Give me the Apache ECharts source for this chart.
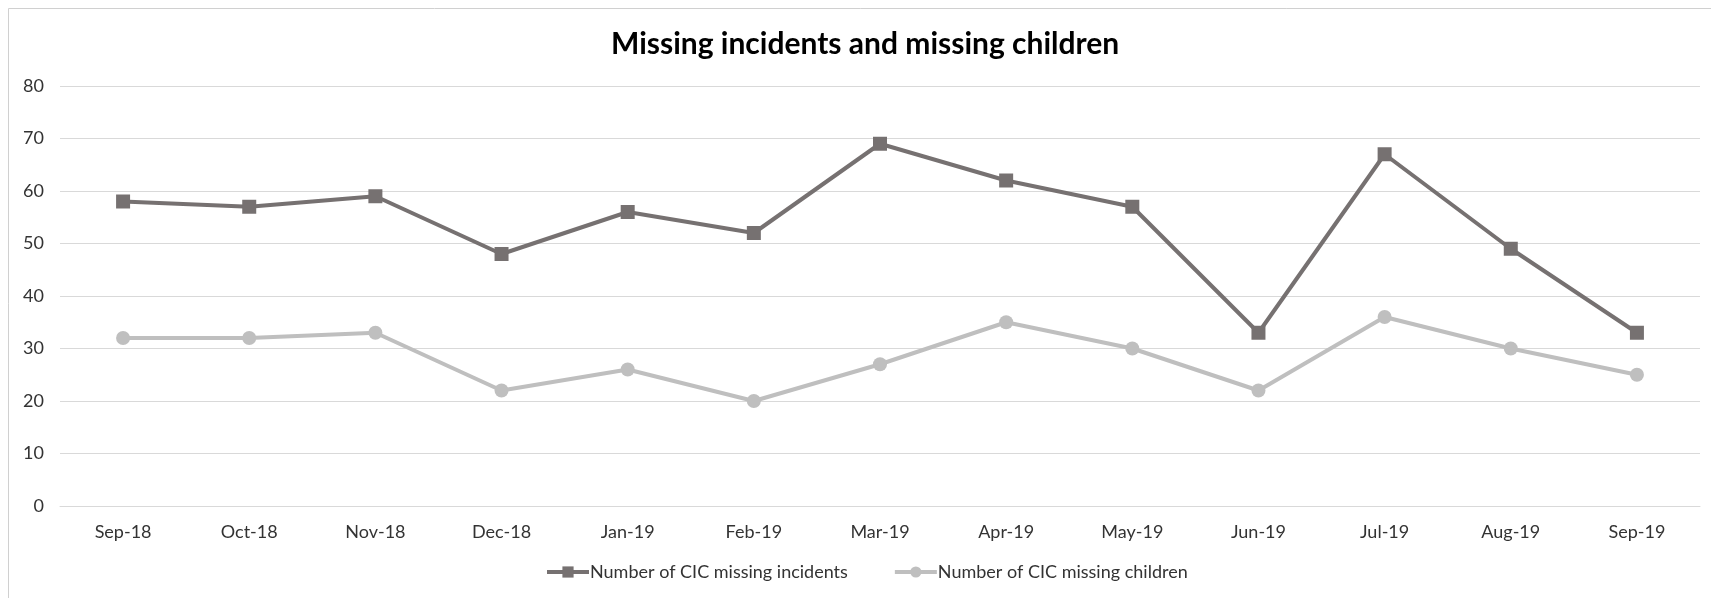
<!DOCTYPE html>
<html>
<head>
<meta charset="utf-8">
<script src="https://cdn.jsdelivr.net/npm/echarts@6/dist/echarts.min.js"></script>
<style>
  html, body { margin: 0; padding: 0; background: #fff; }
  #chart { width: 1711px; height: 598px; }
</style>
</head>
<body>
<div id="chart"></div>
<script>
// Monthly figures, Sep 2018 – Sep 2019
const months = ['Sep-18','Oct-18','Nov-18','Dec-18','Jan-19','Feb-19','Mar-19','Apr-19','May-19','Jun-19','Jul-19','Aug-19','Sep-19'];
const missingIncidents = [58, 57, 59, 48, 56, 52, 69, 62, 57, 33, 67, 49, 33];
const missingChildren = [32, 32, 33, 22, 26, 20, 27, 35, 30, 22, 36, 30, 25];
const yTicks = [0, 10, 20, 30, 40, 50, 60, 70, 80];

const font = 'Lato, Open Sans, sans-serif';
const chart = echarts.init(document.getElementById('chart'));

chart.setOption({
  backgroundColor: '#ffffff',
  animation: false,
  title: {
    text: 'Missing incidents and missing children',
    left: 606,
    top: 24,
    textStyle: { fontFamily: font, fontSize: 30, fontWeight: 'bold', color: '#000' }
  },
  graphic: [{
    type: 'rect',
    shape: { x: 8.5, y: 8.5, width: 1720, height: 620 },
    style: { fill: 'none', stroke: '#d0d0d0', lineWidth: 1 },
    silent: true
  }],
  legend: {
    bottom: 12,
    left: 540,
    itemWidth: 42,
    itemHeight: 14,
    itemGap: 45,
    lineStyle: { width: 4 },
    textStyle: { fontFamily: font, fontSize: 18, color: '#333333', padding: [0, 0, 0, -4] },
    data: ['Number of CIC missing incidents', 'Number of CIC missing children']
  },
  grid: { left: 60, right: 11, top: 86, bottom: 92, containLabel: false },
  xAxis: {
    type: 'category',
    data: months,
    boundaryGap: true,
    axisLine: { show: true, lineStyle: { color: '#d9d9d9', width: 1 } },
    axisTick: { show: false },
    axisLabel: { fontFamily: font, fontSize: 18, color: '#333333', margin: 17 }
  },
  yAxis: {
    type: 'value',
    min: yTicks[0],
    max: yTicks[yTicks.length - 1],
    interval: 10,
    axisLine: { show: false },
    axisTick: { show: false },
    splitLine: { lineStyle: { color: '#d9d9d9', width: 1 } },
    axisLabel: { fontFamily: font, fontSize: 18, color: '#333333', margin: 16 }
  },
  series: [
    {
      name: 'Number of CIC missing incidents',
      type: 'line',
      data: missingIncidents,
      symbol: 'rect',
      symbolSize: 14,
      itemStyle: { color: '#767171' },
      lineStyle: { color: '#767171', width: 4 }
    },
    {
      name: 'Number of CIC missing children',
      type: 'line',
      data: missingChildren,
      symbol: 'circle',
      symbolSize: 14,
      itemStyle: { color: '#bfbfbf' },
      lineStyle: { color: '#bfbfbf', width: 4 }
    }
  ]
});
</script>
</body>
</html>
